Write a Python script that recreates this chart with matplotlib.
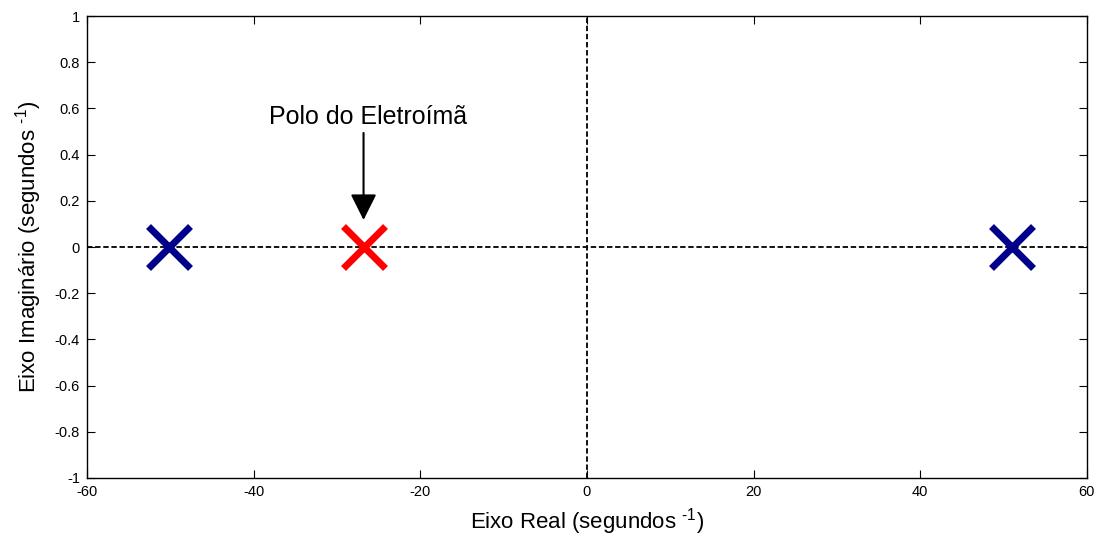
import numpy as np
import matplotlib.pyplot as plt

plt.rcParams['font.family'] = ['Liberation Sans', 'DejaVu Sans']
plt.rcParams['mathtext.fontset'] = 'custom'
plt.rcParams['mathtext.rm'] = 'Liberation Sans'
plt.rcParams['axes.unicode_minus'] = False

# polos do sistema (parte real, parte imaginaria)
polos_re = [-50.2, 51.0]
polos_im = [0.0, 0.0]
polo_eletroima_re = [-26.8]
polo_eletroima_im = [0.0]

xticks = np.arange(-60, 61, 20)
yticks = np.round(np.arange(-1, 1.01, 0.2), 1)

fig = plt.figure(figsize=(11, 5.37), dpi=100)
ax = fig.add_axes([0.079, 0.110, 0.909, 0.860])

ax.axhline(0, color='k', ls='--', lw=1.3, dashes=(3, 1.5), zorder=1)
ax.axvline(0, color='k', ls='--', lw=1.3, dashes=(3, 1.5), zorder=1)

ax.plot(polos_re, polos_im, 'x', color='#00008b', ms=30, mew=5, ls='none', zorder=3)
ax.plot(polo_eletroima_re, polo_eletroima_im, 'x', color='#ff0000', ms=30, mew=5, ls='none', zorder=3)

ax.annotate('', xy=(polo_eletroima_re[0], 0.105), xytext=(polo_eletroima_re[0], 0.506),
            arrowprops=dict(arrowstyle='-|>', color='k', lw=1.5, mutation_scale=40))
ax.text(polo_eletroima_re[0] + 0.6, 0.565, 'Polo do Eletroímã', ha='center', va='center', fontsize=18)

ax.set_xlim(-60, 60)
ax.set_ylim(-1, 1)
ax.set_xticks(xticks)
ax.set_yticks(yticks)
ax.set_xticklabels([str(t) for t in xticks])
ax.set_yticklabels(['0' if t == 0 else ('%g' % t) for t in yticks])
ax.tick_params(direction='in', top=True, right=True, length=6, labelsize=10.5, pad=5)
for s in ax.spines.values():
    s.set_linewidth(1.0)

ax.set_xlabel(r'Eixo Real (segundos $^{\text{-1}}$)', fontsize=16, labelpad=5)
ax.set_ylabel(r'Eixo Imaginário (segundos $^{\text{-1}}$)', fontsize=16, labelpad=8)

fig.savefig('out.png', dpi=100)
plt.close()
